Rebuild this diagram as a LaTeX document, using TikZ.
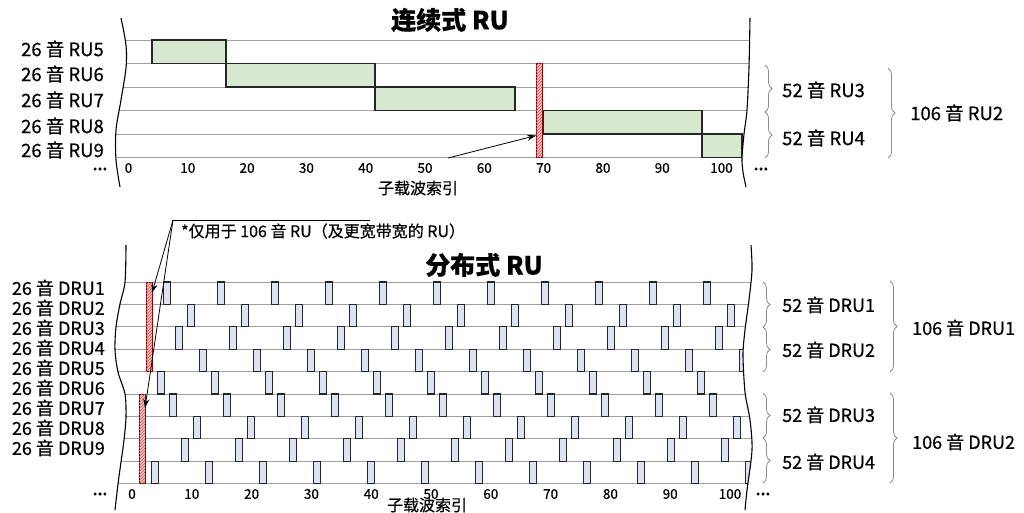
\documentclass[tikz,border=0pt]{standalone}
\usepackage{fontspec}
\setmainfont{Noto Sans CJK SC}[FakeBold=0.5]
\usetikzlibrary{decorations.pathreplacing,patterns,calc,arrows.meta}
\definecolor{gfill}{HTML}{D6E9D0}
\definecolor{bfill}{HTML}{DCE3F3}
\definecolor{pfill}{HTML}{F5C4C4}
\definecolor{pline}{HTML}{D05050}
\definecolor{rowgray}{HTML}{A0A0A0}
\definecolor{brgray}{HTML}{8C8C8C}
\begin{document}
\begin{tikzpicture}[x=1pt,y=-1pt,
  rowline/.style={draw=rowgray,line width=0.8pt},
  curu/.style={fill=gfill,draw=black!85,line width=1.1pt},
  dtile/.style={fill=bfill,draw=black!85,line width=1.1pt},
  pilot/.style={rectangle,inner sep=0pt,outer sep=0pt,minimum width=6pt,fill=pfill,draw=black!45!red,line width=0.7pt,
    postaction={pattern=north east lines,pattern color=pline}},
  wavy/.style={draw=black,line width=1.1pt},
  lab/.style={font=\fontsize{18.5}{20}\selectfont,inner sep=0pt},
  dlab/.style={font=\fontsize{18}{20}\selectfont,inner sep=0pt},
  tick/.style={font=\fontsize{13.5}{15}\selectfont,inner sep=0pt},
  dots/.style={font=\fontsize{14}{15}\selectfont\bfseries,inner sep=0pt},
  ttl/.style={font=\fontsize{25}{28}\selectfont\bfseries,inner sep=0pt},
  brc/.style={draw=brgray,line width=0.8pt,decorate,decoration={brace,amplitude=7pt}},
  arr/.style={draw=black,line width=0.8pt,-{Stealth[length=9pt,width=6pt]}},
]
\useasboundingbox (0,0) rectangle (1024,512);
\fill[white] (0,0) rectangle (1024,512);

% ================= TOP: contiguous RU =================
\node[ttl] (t1) at (450,20) {连续式 RU};

\begin{scope}
\clip plot[smooth] coordinates {(121,18) (126,45) (126,68) (121,100) (116,130) (116,160) (120,187)}
  -- plot[smooth] coordinates {(746,187) (743,172) (742,158) (744,134) (747,110) (749,67) (750,18)} -- cycle;
\foreach \i in {0,...,5} \draw[rowline] (100,{40+23.5*\i}) -- (770,{40+23.5*\i});
\draw[curu] (152,40) rectangle (226,63.5);
\draw[curu] (226,63.5) rectangle (375,87);
\draw[curu] (375,87) rectangle (515,110.5);
\draw[curu] (543,110.5) rectangle (702,134);
\draw[curu] (702,134) rectangle (742,157.5);
\node[pilot,minimum height=94pt,anchor=north west] (p0) at (536,63.5) {};
\end{scope}
\draw[wavy] plot[smooth] coordinates {(121,18) (126,45) (126,68) (121,100) (116,130) (116,160) (120,187)};
\draw[wavy] plot[smooth] coordinates {(746,187) (743,172) (742,158) (744,134) (747,110) (749,67) (750,18)};

\node[lab,anchor=east] (r5) at (104,49) {26 音 RU5};
\node[lab,anchor=east] (r6) at (104,74) {26 音 RU6};
\node[lab,anchor=east] (r7) at (104,100) {26 音 RU7};
\node[lab,anchor=east] (r8) at (104,126) {26 音 RU8};
\node[lab,anchor=east] (r9) at (104,150) {26 音 RU9};
\node[dots] (d1) at (100,169) {...};
\node[dots] (d2) at (761,169) {...};

\foreach \v in {0,10,...,100} \node[tick] (tx\v) at ({128.5+5.93*\v},168) {\v};
\node[font=\fontsize{16}{18}\selectfont,inner sep=0pt] (ax1) at (418,188) {子载波索引};

\coordinate (a0) at (448,158);
\draw[arr] (a0) -- ($(p0.south west)!0.234!(p0.north west)$);

\draw[brc] (765,65) -- (765,112);
\draw[brc] (765,112) -- (765,158);
\draw[brc] (888,68) -- (888,158);
\node[lab,anchor=west] (b1) at (782,90) {52 音 RU3};
\node[lab,anchor=west] (b2) at (782,138) {52 音 RU4};
\node[lab,anchor=west] (b3) at (910,113) {106 音 RU2};

% ================= BOTTOM: distributed RU =================
\node[ttl] (t2) at (484,265) {分布式 RU};

\begin{scope}
\clip plot[smooth] coordinates {(126,245) (125,282) (120,304) (116,327) (115,350) (118,372) (125,394) (126,417) (124,440) (121,462) (118,484) (115,510)}
  -- plot[smooth] coordinates {(745,510) (747,490) (752,450) (750,420) (745,392) (743,355) (745,330) (749,300) (752,270) (751,245)} -- cycle;
\foreach \i in {0,...,9} \draw[rowline] (100,{282+22.4*\i}) -- (770,{282+22.4*\i});
\foreach \r/\o in {1/167,2/191,3/179,4/203,5/161,6/173,7/197,8/185,9/155}{
  \foreach \k in {0,...,11}{
    \draw[dtile] ({\o+54*\k-3.2},{282+22.4*(\r-1)}) rectangle ({\o+54*\k+3.2},{282+22.4*\r});
  }
}
\node[pilot,minimum height=89.6pt,anchor=north west] (p1) at (146,282) {};
\node[pilot,minimum height=89.6pt,anchor=north west] (p2) at (139,394) {};
\end{scope}
\draw[wavy] plot[smooth] coordinates {(126,245) (125,282) (120,304) (116,327) (115,350) (118,372) (125,394) (126,417) (124,440) (121,462) (118,484) (115,510)};
\draw[wavy] plot[smooth] coordinates {(745,510) (747,490) (752,450) (750,420) (745,392) (743,355) (745,330) (749,300) (752,270) (751,245)};

\foreach \i in {1,...,9} \node[dlab,anchor=east] (dr\i) at (105,{288+20*(\i-1)}) {26 音 DRU\i};
\node[dots] (d3) at (100,494) {...};
\node[dots] (d4) at (763,494) {...};

\foreach \v in {0,10,...,100} \node[tick] (bx\v) at ({132+5.98*\v},494) {\v};
\node[font=\fontsize{16}{18}\selectfont,inner sep=0pt] (ax2) at (427,505) {子载波索引};

% annotation
\coordinate (nc) at (173,220);
\coordinate (ne) at (370,220);
\draw[black,line width=0.8pt] (nc) -- (ne);
\node[font=\fontsize{16}{18}\selectfont,inner sep=0pt,anchor=west] (note) at (181,231) {*仅用于 106 音 RU（及更宽带宽的 RU）};
\draw[arr] (nc) -- ($(p1.north east)!0.122!(p1.south east)$);
\draw[arr] (nc) -- ($(p2.north east)!0.156!(p2.south east)$);

\draw[brc] (763,282) -- (763,327);
\draw[brc] (763,327) -- (763,372);
\draw[brc] (890,281) -- (890,372);
\draw[brc] (763,393) -- (763,438);
\draw[brc] (763,438) -- (763,483);
\draw[brc] (890,393) -- (890,483);
\node[dlab,anchor=west] (c1) at (782,305) {52 音 DRU1};
\node[dlab,anchor=west] (c2) at (782,350) {52 音 DRU2};
\node[dlab,anchor=west] (c3) at (782,415) {52 音 DRU3};
\node[dlab,anchor=west] (c4) at (782,462) {52 音 DRU4};
\node[dlab,anchor=west] (c5) at (912,328) {106 音 DRU1};
\node[dlab,anchor=west] (c6) at (912,442) {106 音 DRU2};
\end{tikzpicture}
\end{document}
